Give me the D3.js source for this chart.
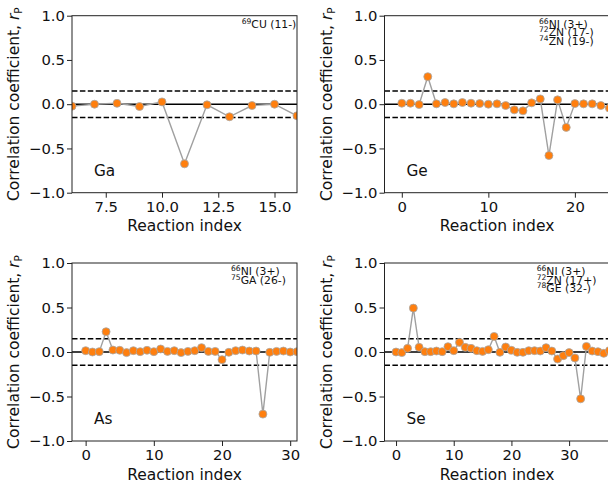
<!DOCTYPE html>
<html><head><meta charset="utf-8">
<script src="https://cdn.jsdelivr.net/npm/d3@7"></script>
<style>html,body{margin:0;padding:0;background:#fff;overflow:hidden}svg{display:block}</style>
</head><body><svg id="c" width="608" height="483"></svg>
<script>
// ---- data ----
const gaIndex = [6, 7, 8, 9, 10, 11, 12, 13, 14, 15, 16];
const gaValues = [-0.022, 0.0, 0.01, -0.026, 0.026, -0.674, -0.007, -0.142, -0.015, 0.0, -0.131];
const geValues = [0.011, 0.011, -0.004, 0.311, 0.004, 0.019, 0.004, 0.019, 0.011, 0.007, 0.0, 0.004, -0.015,
  -0.064, -0.075, 0.015, 0.06, -0.58, 0.049, -0.262, 0.007, 0.004, 0.004, -0.015, -0.045];
const asValues = [0.015, 0.0, 0.004, 0.228, 0.022, 0.019, -0.007, 0.015, 0.004, 0.019, 0.004, 0.034, 0.007,
  0.015, -0.007, 0.007, 0.015, 0.049, 0.007, 0.007, -0.086, -0.004, 0.015, 0.022, 0.011, 0.011, -0.698,
  -0.004, 0.007, 0.011, 0.0, 0.004];
const seValues = [0.0, -0.007, 0.041, 0.493, 0.052, 0.004, 0.004, 0.011, 0.004, 0.06, 0.015, 0.108, 0.052,
  0.041, 0.015, 0.007, 0.026, 0.175, -0.004, 0.056, 0.019, -0.004, -0.004, 0.015, 0.015, 0.011, 0.049,
  0.011, -0.078, -0.041, -0.007, -0.067, -0.526, 0.063, 0.011, 0.004, -0.015, 0.015];
const yTicks = [-1, -0.5, 0, 0.5, 1];
const gaTicks = [7.5, 10, 12.5, 15];
const geTicks = [0, 10, 20];
const asTicks = [0, 10, 20, 30];
const seTicks = [0, 10, 20, 30];
const elementNames = ["Ga", "Ge", "As", "Se"];
const gaNotes = [["69", "CU (11-)"]];
const geNotes = [["66", "NI (3+)"], ["72", "ZN (17-)"], ["74", "ZN (19-)"]];
const asNotes = [["66", "NI (3+)"], ["75", "GA (26-)"]];
const seNotes = [["66", "NI (3+)"], ["72", "ZN (17+)"], ["78", "GE (32-)"]];
const thresholdValue = 0.15;
const xLabel = "Reaction index";

// ---- layout ----
const panels = [
  {name: elementNames[0], idx: gaIndex, vals: gaValues, xdom: [6, 16], ticks: gaTicks, fmt: d3.format(".1f"),
   box: [72, 297, 15.7, 192.7], notes: gaNotes, noteX: 241.7},
  {name: elementNames[1], idx: d3.range(geValues.length), vals: geValues, xdom: [-2, 24], ticks: geTicks, fmt: d3.format("d"),
   box: [384.5, 609.5, 15.7, 192.7], notes: geNotes, noteX: 539},
  {name: elementNames[2], idx: d3.range(asValues.length), vals: asValues, xdom: [-2, 31], ticks: asTicks, fmt: d3.format("d"),
   box: [72, 297, 263, 441], notes: asNotes, noteX: 231},
  {name: elementNames[3], idx: d3.range(seValues.length), vals: seValues, xdom: [-2, 37], ticks: seTicks, fmt: d3.format("d"),
   box: [384.5, 609.5, 263, 441], notes: seNotes, noteX: 536.7}
];

const svg = d3.select("#c");
const FONT = "DejaVu Sans, sans-serif";
const yFmt = d => (d < 0 ? "\u2212" : "") + Math.abs(d).toFixed(1);

panels.forEach((p, i) => {
  const [L, R, T, B] = p.box;
  const x = d3.scaleLinear().domain(p.xdom).range([L, R]);
  const y = d3.scaleLinear().domain([-1, 1]).range([B, T]);
  const g = svg.append("g");
  const cid = "clip" + i;
  svg.append("clipPath").attr("id", cid).append("rect")
    .attr("x", L).attr("y", T).attr("width", R - L).attr("height", B - T);
  const plot = g.append("g").attr("clip-path", `url(#${cid})`);

  // reference lines
  plot.append("line").attr("x1", L).attr("x2", R).attr("y1", y(0)).attr("y2", y(0))
    .attr("stroke", "#000").attr("stroke-width", 1.5);
  [thresholdValue, -thresholdValue].forEach(t => {
    plot.append("line").attr("x1", L).attr("x2", R).attr("y1", y(t)).attr("y2", y(t))
      .attr("stroke", "#000").attr("stroke-width", 1.5).attr("stroke-dasharray", "5.5,2.4");
  });

  const pts = p.idx.map((k, j) => [k, p.vals[j]]);
  plot.append("path").datum(pts)
    .attr("d", d3.line().x(d => x(d[0])).y(d => y(d[1])))
    .attr("fill", "none").attr("stroke", "#a0a0a0").attr("stroke-width", 1.4);
  plot.selectAll("circle").data(pts).join("circle")
    .attr("cx", d => x(d[0])).attr("cy", d => y(d[1])).attr("r", 4)
    .attr("fill", "#ff7f0e").attr("stroke", "#a8a8a8").attr("stroke-width", 0.8);

  // axes
  const ax = g.append("g").attr("transform", `translate(0,${B})`)
    .call(d3.axisBottom(x).tickValues(p.ticks).tickFormat(p.fmt).tickSize(5).tickPadding(3.6));
  const ay = g.append("g").attr("transform", `translate(${L},0)`)
    .call(d3.axisLeft(y).tickValues(yTicks).tickFormat(yFmt).tickSize(5).tickPadding(2));
  [ax, ay].forEach(a => {
    a.select(".domain").remove();
    a.attr("font-family", null).attr("font-size", null);
    a.selectAll("line").attr("stroke", "#222").attr("stroke-width", 1);
    a.selectAll("text").attr("fill", "#111").style("font-family", FONT).style("font-size", "14.8px");
  });

  g.append("rect").attr("x", L).attr("y", T).attr("width", R - L).attr("height", B - T)
    .attr("fill", "none").attr("stroke", "#222").attr("stroke-width", 1);

  // labels
  g.append("text").attr("x", (L + R) / 2).attr("y", B + 38.5).attr("text-anchor", "middle")
    .style("font-family", FONT).style("font-size", "15.5px").attr("fill", "#111").text(xLabel);
  const yl = g.append("text").attr("transform", `translate(${L - 53},${(T + B) / 2}) rotate(-90)`)
    .attr("text-anchor", "middle").style("font-family", FONT).style("font-size", "15.5px").attr("fill", "#111");
  yl.append("tspan").text("Correlation coefficient, ");
  yl.append("tspan").style("font-style", "italic").text("r");
  yl.append("tspan").attr("dy", 3).style("font-size", "10.5px").text("P");

  g.append("text").attr("x", L + 22).attr("y", B - 17)
    .style("font-family", FONT).style("font-size", "15.3px").attr("fill", "#111").text(p.name);

  p.notes.forEach((n, k) => {
    const t = g.append("text").attr("x", p.noteX).attr("y", T + 12 + k * 8.5)
      .style("font-family", FONT).attr("fill", "#111");
    t.append("tspan").attr("dy", -4).style("font-size", "7.6px").text(n[0]);
    t.append("tspan").attr("dy", 4).style("font-size", "10.8px").text(n[1]);
  });
});
</script></body></html>
